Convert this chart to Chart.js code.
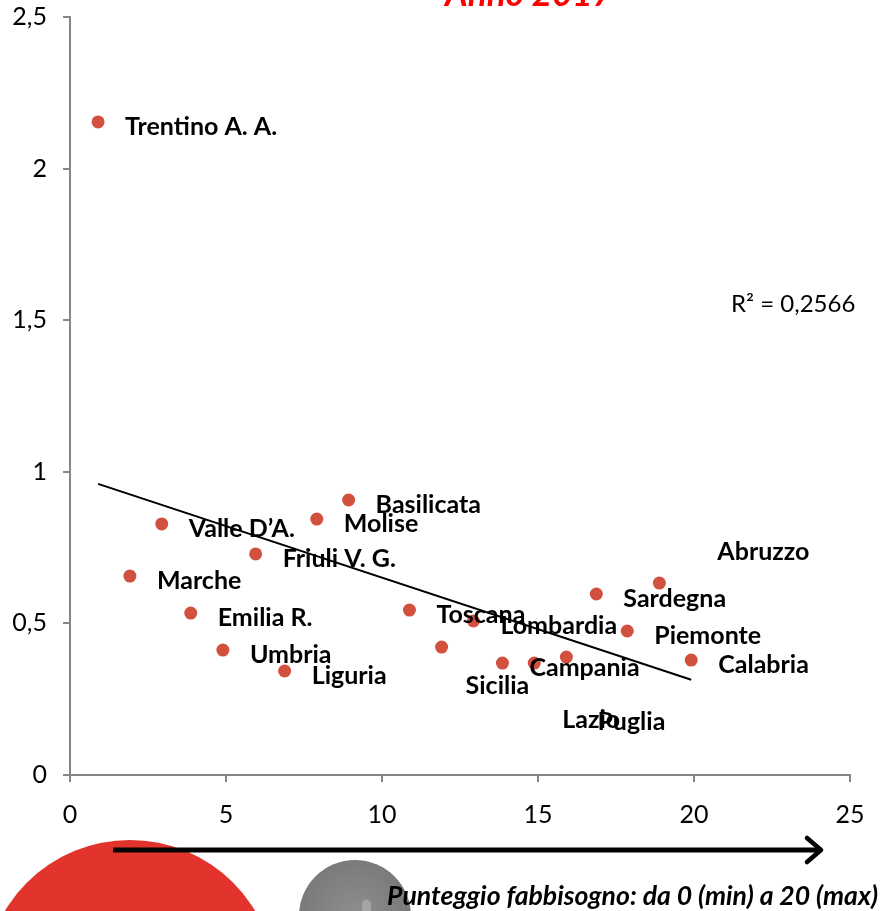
<!DOCTYPE html>
<html lang="it">
<head>
<meta charset="utf-8">
<title>Anno 2017</title>
<script src="https://cdn.jsdelivr.net/npm/chart.js@4.4.1/dist/chart.umd.min.js"></script>
<style>
  html, body { margin: 0; padding: 0; background: #fff; }
  #wrap { position: relative; width: 881px; height: 911px; }
</style>
</head>
<body>
<div id="wrap"><canvas id="scatter"></canvas></div>
<script>
// regioni, punteggio fabbisogno (x) e valore (y)
const regioni = ['Trentino A. A.', 'Marche', 'Valle D\u2019A.', 'Emilia R.', 'Umbria', 'Friuli V. G.', 'Liguria',
  'Molise', 'Basilicata', 'Toscana', 'Sicilia', 'Lombardia', 'Campania', 'Lazio', 'Puglia', 'Sardegna',
  'Piemonte', 'Abruzzo', 'Calabria'];
const punteggio = [0.9, 1.92, 2.94, 3.87, 4.9, 5.95, 6.88, 7.91, 8.93, 10.88, 11.91, 12.93, 13.86, 14.88,
  15.91, 16.87, 17.86, 18.89, 19.91];
const valori = [2.154, 0.656, 0.828, 0.534, 0.412, 0.729, 0.343, 0.844, 0.907, 0.544, 0.422, 0.508, 0.369,
  0.369, 0.389, 0.597, 0.475, 0.633, 0.379];

const xTickLabels = ['0', '5', '10', '15', '20', '25'];
const yTickLabels = ['0', '0,5', '1', '1,5', '2', '2,5'];

const titolo = 'Anno 2017';
const r2Label = 'R\u00b2 = 0,2566';
const asseLabel = 'Punteggio fabbisogno: da 0 (min) a 20 (max)';

// label offsets in px (most sit to the right of the dot)
const labelShift = {
  'Sicilia': [24, 39],
  'Lazio': [28, 57],
  'Puglia': [31, 65],
  'Abruzzo': [58, -31]
};

// linear trend (least squares) over the points
function trend(xs, ys) {
  const n = xs.length;
  const mx = xs.reduce((a, b) => a + b, 0) / n;
  const my = ys.reduce((a, b) => a + b, 0) / n;
  let sxy = 0, sxx = 0;
  for (let i = 0; i < n; i++) {
    sxy += (xs[i] - mx) * (ys[i] - my);
    sxx += (xs[i] - mx) * (xs[i] - mx);
  }
  const b = sxy / sxx;
  const a = my - b * mx;
  const x0 = Math.min(...xs), x1 = Math.max(...xs);
  return [{ x: x0, y: a + b * x0 }, { x: x1, y: a + b * x1 }];
}

const punti = punteggio.map((x, i) => ({ x: x, y: valori[i] }));

const labelPlugin = {
  id: 'regionLabels',
  afterDatasetsDraw(chart) {
    const ctx = chart.ctx;
    const meta = chart.getDatasetMeta(1);
    ctx.save();
    ctx.font = 'bold 25px Lato';
    ctx.fillStyle = '#000';
    ctx.textAlign = 'left';
    ctx.textBaseline = 'middle';
    meta.data.forEach((pt, i) => {
      const name = regioni[i];
      const s = labelShift[name] || [27, 5];
      ctx.fillText(name, pt.x + s[0], pt.y + s[1]);
    });
    ctx.restore();
  }
};

const decorPlugin = {
  id: 'decor',
  beforeDraw(chart) {
    const ctx = chart.ctx;
    ctx.save();
    ctx.fillStyle = '#fff';
    ctx.fillRect(0, 0, chart.width, chart.height);
    ctx.restore();
  },
  afterDraw(chart) {
    const ctx = chart.ctx;
    ctx.save();

    // title, mostly above the top edge
    ctx.font = 'italic bold 35px Lato';
    ctx.fillStyle = '#ff0000';
    ctx.textAlign = 'center';
    ctx.textBaseline = 'alphabetic';
    ctx.fillText(titolo, 529, 6);

    // R squared
    ctx.font = '24px Lato';
    ctx.fillStyle = '#000';
    ctx.textAlign = 'left';
    ctx.textBaseline = 'middle';
    ctx.fillText(r2Label, 731, 304);

    // red disc
    ctx.beginPath();
    ctx.arc(130, 986, 146, 0, Math.PI * 2);
    ctx.fillStyle = '#e2342c';
    ctx.fill();

    // grey disc
    const g = ctx.createRadialGradient(355, 915, 5, 355, 915, 56);
    g.addColorStop(0, '#8c8c8c');
    g.addColorStop(1, '#7a7a7a');
    ctx.beginPath();
    ctx.arc(355, 916, 56, 0, Math.PI * 2);
    ctx.fillStyle = g;
    ctx.fill();
    ctx.beginPath();
    ctx.moveTo(362, 911);
    ctx.lineTo(362, 904);
    ctx.arc(366.5, 904, 4.5, Math.PI, 0);
    ctx.lineTo(371, 911);
    ctx.closePath();
    ctx.fillStyle = '#a4a4a4';
    ctx.fill();

    // arrow
    ctx.strokeStyle = '#000';
    ctx.lineWidth = 5;
    ctx.lineCap = 'butt';
    ctx.beginPath();
    ctx.moveTo(113, 850);
    ctx.lineTo(820, 850);
    ctx.stroke();
    ctx.lineCap = 'round';
    ctx.lineJoin = 'round';
    ctx.lineWidth = 4.5;
    ctx.beginPath();
    ctx.moveTo(807, 838);
    ctx.lineTo(821, 850);
    ctx.lineTo(807, 862);
    ctx.stroke();

    // x caption
    ctx.font = 'italic bold 26.6px Lato';
    ctx.fillStyle = '#000';
    ctx.textAlign = 'left';
    ctx.textBaseline = 'middle';
    ctx.fillText(asseLabel, 387, 896, 491);

    ctx.restore();
  }
};

const axisColor = '#868686';

new Chart(document.getElementById('scatter'), {
  type: 'scatter',
  data: {
    datasets: [
      {
        type: 'line',
        data: trend(punteggio, valori),
        borderColor: '#000',
        borderWidth: 2,
        pointRadius: 0,
        fill: false,
        order: 2
      },
      {
        data: punti,
        backgroundColor: '#d2503e',
        borderWidth: 0,
        pointRadius: 6.5,
        order: 1
      }
    ]
  },
  options: {
    responsive: true,
    maintainAspectRatio: false,
    animation: false,
    layout: { padding: { top: 17, right: 31, bottom: 71, left: 0 } },
    plugins: {
      legend: { display: false },
      tooltip: { enabled: false }
    },
    scales: {
      x: {
        type: 'linear',
        min: 0,
        max: 25,
        afterFit(scale) {
          scale.height = 65;
          scale.paddingLeft = 0;
          scale.paddingRight = 0;
        },
        border: { color: axisColor, width: 2 },
        grid: { drawOnChartArea: false, drawTicks: true, tickLength: 7, color: axisColor, lineWidth: 2 },
        ticks: {
          stepSize: 5,
          padding: 18,
          color: '#000',
          font: { family: 'Lato', size: 25 },
          callback: (v) => xTickLabels[Math.round(v / 5)]
        }
      },
      y: {
        type: 'linear',
        min: 0,
        max: 2.5,
        afterFit(scale) {
          scale.width = 70;
          scale.paddingTop = 0;
          scale.paddingBottom = 0;
        },
        border: { color: axisColor, width: 2 },
        grid: { drawOnChartArea: false, drawTicks: true, tickLength: 7, color: axisColor, lineWidth: 2 },
        ticks: {
          stepSize: 0.5,
          padding: 16,
          color: '#000',
          font: { family: 'Lato', size: 25 },
          callback: (v) => yTickLabels[Math.round(v / 0.5)]
        }
      }
    }
  },
  plugins: [labelPlugin, decorPlugin]
});
</script>
</body>
</html>
